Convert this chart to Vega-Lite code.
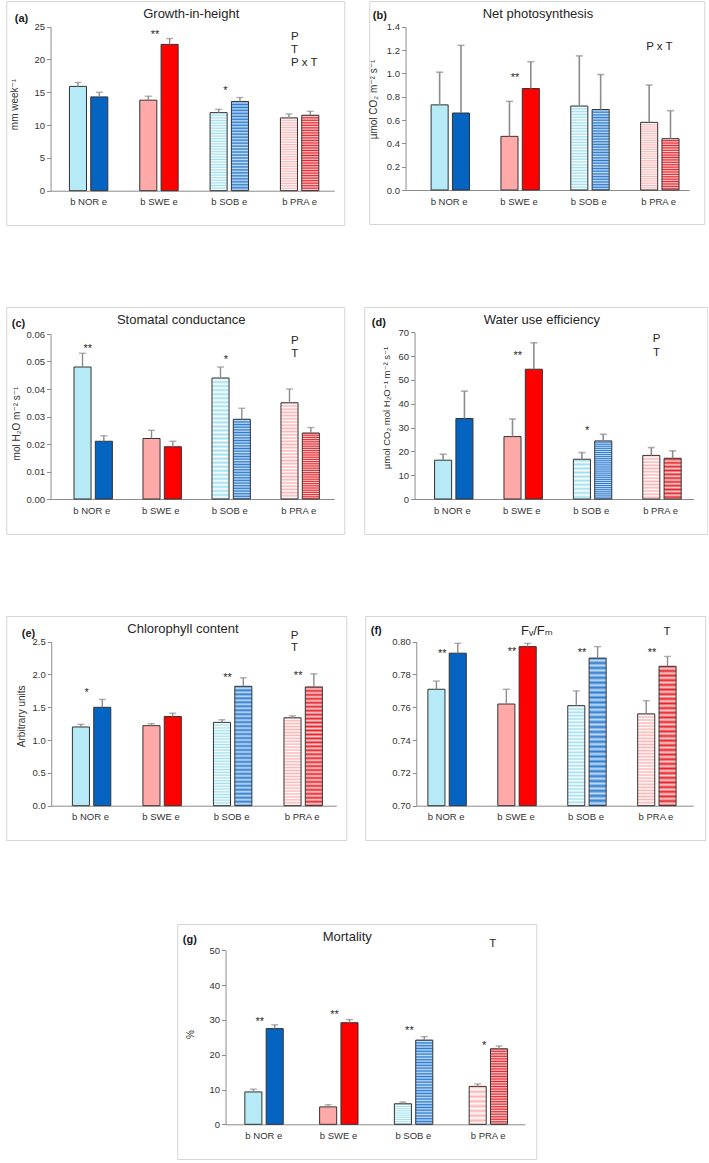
{
  "$schema": "https://vega.github.io/schema/vega-lite/v6.json",
  "background": "white",
  "padding": {"left": 5, "top": 0, "right": 0, "bottom": 0},
  "params": [
    {"name": "sobB", "value": {"gradient": "linear", "x1": 0, "y1": 0, "x2": 0, "y2": 1, "stops": [{"offset":0,"color":"#9fdff0"},{"offset":0.0167,"color":"#ffffff"},{"offset":0.0333,"color":"#9fdff0"},{"offset":0.05,"color":"#ffffff"},{"offset":0.0667,"color":"#9fdff0"},{"offset":0.0833,"color":"#ffffff"},{"offset":0.1,"color":"#9fdff0"},{"offset":0.1167,"color":"#ffffff"},{"offset":0.1333,"color":"#9fdff0"},{"offset":0.15,"color":"#ffffff"},{"offset":0.1667,"color":"#9fdff0"},{"offset":0.1833,"color":"#ffffff"},{"offset":0.2,"color":"#9fdff0"},{"offset":0.2167,"color":"#ffffff"},{"offset":0.2333,"color":"#9fdff0"},{"offset":0.25,"color":"#ffffff"},{"offset":0.2667,"color":"#9fdff0"},{"offset":0.2833,"color":"#ffffff"},{"offset":0.3,"color":"#9fdff0"},{"offset":0.3167,"color":"#ffffff"},{"offset":0.3333,"color":"#9fdff0"},{"offset":0.35,"color":"#ffffff"},{"offset":0.3667,"color":"#9fdff0"},{"offset":0.3833,"color":"#ffffff"},{"offset":0.4,"color":"#9fdff0"},{"offset":0.4167,"color":"#ffffff"},{"offset":0.4333,"color":"#9fdff0"},{"offset":0.45,"color":"#ffffff"},{"offset":0.4667,"color":"#9fdff0"},{"offset":0.4833,"color":"#ffffff"},{"offset":0.5,"color":"#9fdff0"},{"offset":0.5167,"color":"#ffffff"},{"offset":0.5333,"color":"#9fdff0"},{"offset":0.55,"color":"#ffffff"},{"offset":0.5667,"color":"#9fdff0"},{"offset":0.5833,"color":"#ffffff"},{"offset":0.6,"color":"#9fdff0"},{"offset":0.6167,"color":"#ffffff"},{"offset":0.6333,"color":"#9fdff0"},{"offset":0.65,"color":"#ffffff"},{"offset":0.6667,"color":"#9fdff0"},{"offset":0.6833,"color":"#ffffff"},{"offset":0.7,"color":"#9fdff0"},{"offset":0.7167,"color":"#ffffff"},{"offset":0.7333,"color":"#9fdff0"},{"offset":0.75,"color":"#ffffff"},{"offset":0.7667,"color":"#9fdff0"},{"offset":0.7833,"color":"#ffffff"},{"offset":0.8,"color":"#9fdff0"},{"offset":0.8167,"color":"#ffffff"},{"offset":0.8333,"color":"#9fdff0"},{"offset":0.85,"color":"#ffffff"},{"offset":0.8667,"color":"#9fdff0"},{"offset":0.8833,"color":"#ffffff"},{"offset":0.9,"color":"#9fdff0"},{"offset":0.9167,"color":"#ffffff"},{"offset":0.9333,"color":"#9fdff0"},{"offset":0.95,"color":"#ffffff"},{"offset":0.9667,"color":"#9fdff0"},{"offset":0.9833,"color":"#ffffff"},{"offset":1,"color":"#9fdff0"}]}},
    {"name": "sobE", "value": {"gradient": "linear", "x1": 0, "y1": 0, "x2": 0, "y2": 1, "stops": [{"offset":0,"color":"#2a7bd0"},{"offset":0.0167,"color":"#c5dcf5"},{"offset":0.0333,"color":"#2a7bd0"},{"offset":0.05,"color":"#c5dcf5"},{"offset":0.0667,"color":"#2a7bd0"},{"offset":0.0833,"color":"#c5dcf5"},{"offset":0.1,"color":"#2a7bd0"},{"offset":0.1167,"color":"#c5dcf5"},{"offset":0.1333,"color":"#2a7bd0"},{"offset":0.15,"color":"#c5dcf5"},{"offset":0.1667,"color":"#2a7bd0"},{"offset":0.1833,"color":"#c5dcf5"},{"offset":0.2,"color":"#2a7bd0"},{"offset":0.2167,"color":"#c5dcf5"},{"offset":0.2333,"color":"#2a7bd0"},{"offset":0.25,"color":"#c5dcf5"},{"offset":0.2667,"color":"#2a7bd0"},{"offset":0.2833,"color":"#c5dcf5"},{"offset":0.3,"color":"#2a7bd0"},{"offset":0.3167,"color":"#c5dcf5"},{"offset":0.3333,"color":"#2a7bd0"},{"offset":0.35,"color":"#c5dcf5"},{"offset":0.3667,"color":"#2a7bd0"},{"offset":0.3833,"color":"#c5dcf5"},{"offset":0.4,"color":"#2a7bd0"},{"offset":0.4167,"color":"#c5dcf5"},{"offset":0.4333,"color":"#2a7bd0"},{"offset":0.45,"color":"#c5dcf5"},{"offset":0.4667,"color":"#2a7bd0"},{"offset":0.4833,"color":"#c5dcf5"},{"offset":0.5,"color":"#2a7bd0"},{"offset":0.5167,"color":"#c5dcf5"},{"offset":0.5333,"color":"#2a7bd0"},{"offset":0.55,"color":"#c5dcf5"},{"offset":0.5667,"color":"#2a7bd0"},{"offset":0.5833,"color":"#c5dcf5"},{"offset":0.6,"color":"#2a7bd0"},{"offset":0.6167,"color":"#c5dcf5"},{"offset":0.6333,"color":"#2a7bd0"},{"offset":0.65,"color":"#c5dcf5"},{"offset":0.6667,"color":"#2a7bd0"},{"offset":0.6833,"color":"#c5dcf5"},{"offset":0.7,"color":"#2a7bd0"},{"offset":0.7167,"color":"#c5dcf5"},{"offset":0.7333,"color":"#2a7bd0"},{"offset":0.75,"color":"#c5dcf5"},{"offset":0.7667,"color":"#2a7bd0"},{"offset":0.7833,"color":"#c5dcf5"},{"offset":0.8,"color":"#2a7bd0"},{"offset":0.8167,"color":"#c5dcf5"},{"offset":0.8333,"color":"#2a7bd0"},{"offset":0.85,"color":"#c5dcf5"},{"offset":0.8667,"color":"#2a7bd0"},{"offset":0.8833,"color":"#c5dcf5"},{"offset":0.9,"color":"#2a7bd0"},{"offset":0.9167,"color":"#c5dcf5"},{"offset":0.9333,"color":"#2a7bd0"},{"offset":0.95,"color":"#c5dcf5"},{"offset":0.9667,"color":"#2a7bd0"},{"offset":0.9833,"color":"#c5dcf5"},{"offset":1,"color":"#2a7bd0"}]}},
    {"name": "praB", "value": {"gradient": "linear", "x1": 0, "y1": 0, "x2": 0, "y2": 1, "stops": [{"offset":0,"color":"#ffb2b2"},{"offset":0.0167,"color":"#ffffff"},{"offset":0.0333,"color":"#ffb2b2"},{"offset":0.05,"color":"#ffffff"},{"offset":0.0667,"color":"#ffb2b2"},{"offset":0.0833,"color":"#ffffff"},{"offset":0.1,"color":"#ffb2b2"},{"offset":0.1167,"color":"#ffffff"},{"offset":0.1333,"color":"#ffb2b2"},{"offset":0.15,"color":"#ffffff"},{"offset":0.1667,"color":"#ffb2b2"},{"offset":0.1833,"color":"#ffffff"},{"offset":0.2,"color":"#ffb2b2"},{"offset":0.2167,"color":"#ffffff"},{"offset":0.2333,"color":"#ffb2b2"},{"offset":0.25,"color":"#ffffff"},{"offset":0.2667,"color":"#ffb2b2"},{"offset":0.2833,"color":"#ffffff"},{"offset":0.3,"color":"#ffb2b2"},{"offset":0.3167,"color":"#ffffff"},{"offset":0.3333,"color":"#ffb2b2"},{"offset":0.35,"color":"#ffffff"},{"offset":0.3667,"color":"#ffb2b2"},{"offset":0.3833,"color":"#ffffff"},{"offset":0.4,"color":"#ffb2b2"},{"offset":0.4167,"color":"#ffffff"},{"offset":0.4333,"color":"#ffb2b2"},{"offset":0.45,"color":"#ffffff"},{"offset":0.4667,"color":"#ffb2b2"},{"offset":0.4833,"color":"#ffffff"},{"offset":0.5,"color":"#ffb2b2"},{"offset":0.5167,"color":"#ffffff"},{"offset":0.5333,"color":"#ffb2b2"},{"offset":0.55,"color":"#ffffff"},{"offset":0.5667,"color":"#ffb2b2"},{"offset":0.5833,"color":"#ffffff"},{"offset":0.6,"color":"#ffb2b2"},{"offset":0.6167,"color":"#ffffff"},{"offset":0.6333,"color":"#ffb2b2"},{"offset":0.65,"color":"#ffffff"},{"offset":0.6667,"color":"#ffb2b2"},{"offset":0.6833,"color":"#ffffff"},{"offset":0.7,"color":"#ffb2b2"},{"offset":0.7167,"color":"#ffffff"},{"offset":0.7333,"color":"#ffb2b2"},{"offset":0.75,"color":"#ffffff"},{"offset":0.7667,"color":"#ffb2b2"},{"offset":0.7833,"color":"#ffffff"},{"offset":0.8,"color":"#ffb2b2"},{"offset":0.8167,"color":"#ffffff"},{"offset":0.8333,"color":"#ffb2b2"},{"offset":0.85,"color":"#ffffff"},{"offset":0.8667,"color":"#ffb2b2"},{"offset":0.8833,"color":"#ffffff"},{"offset":0.9,"color":"#ffb2b2"},{"offset":0.9167,"color":"#ffffff"},{"offset":0.9333,"color":"#ffb2b2"},{"offset":0.95,"color":"#ffffff"},{"offset":0.9667,"color":"#ffb2b2"},{"offset":0.9833,"color":"#ffffff"},{"offset":1,"color":"#ffb2b2"}]}},
    {"name": "praE", "value": {"gradient": "linear", "x1": 0, "y1": 0, "x2": 0, "y2": 1, "stops": [{"offset":0,"color":"#e5232b"},{"offset":0.0167,"color":"#fbd0d0"},{"offset":0.0333,"color":"#e5232b"},{"offset":0.05,"color":"#fbd0d0"},{"offset":0.0667,"color":"#e5232b"},{"offset":0.0833,"color":"#fbd0d0"},{"offset":0.1,"color":"#e5232b"},{"offset":0.1167,"color":"#fbd0d0"},{"offset":0.1333,"color":"#e5232b"},{"offset":0.15,"color":"#fbd0d0"},{"offset":0.1667,"color":"#e5232b"},{"offset":0.1833,"color":"#fbd0d0"},{"offset":0.2,"color":"#e5232b"},{"offset":0.2167,"color":"#fbd0d0"},{"offset":0.2333,"color":"#e5232b"},{"offset":0.25,"color":"#fbd0d0"},{"offset":0.2667,"color":"#e5232b"},{"offset":0.2833,"color":"#fbd0d0"},{"offset":0.3,"color":"#e5232b"},{"offset":0.3167,"color":"#fbd0d0"},{"offset":0.3333,"color":"#e5232b"},{"offset":0.35,"color":"#fbd0d0"},{"offset":0.3667,"color":"#e5232b"},{"offset":0.3833,"color":"#fbd0d0"},{"offset":0.4,"color":"#e5232b"},{"offset":0.4167,"color":"#fbd0d0"},{"offset":0.4333,"color":"#e5232b"},{"offset":0.45,"color":"#fbd0d0"},{"offset":0.4667,"color":"#e5232b"},{"offset":0.4833,"color":"#fbd0d0"},{"offset":0.5,"color":"#e5232b"},{"offset":0.5167,"color":"#fbd0d0"},{"offset":0.5333,"color":"#e5232b"},{"offset":0.55,"color":"#fbd0d0"},{"offset":0.5667,"color":"#e5232b"},{"offset":0.5833,"color":"#fbd0d0"},{"offset":0.6,"color":"#e5232b"},{"offset":0.6167,"color":"#fbd0d0"},{"offset":0.6333,"color":"#e5232b"},{"offset":0.65,"color":"#fbd0d0"},{"offset":0.6667,"color":"#e5232b"},{"offset":0.6833,"color":"#fbd0d0"},{"offset":0.7,"color":"#e5232b"},{"offset":0.7167,"color":"#fbd0d0"},{"offset":0.7333,"color":"#e5232b"},{"offset":0.75,"color":"#fbd0d0"},{"offset":0.7667,"color":"#e5232b"},{"offset":0.7833,"color":"#fbd0d0"},{"offset":0.8,"color":"#e5232b"},{"offset":0.8167,"color":"#fbd0d0"},{"offset":0.8333,"color":"#e5232b"},{"offset":0.85,"color":"#fbd0d0"},{"offset":0.8667,"color":"#e5232b"},{"offset":0.8833,"color":"#fbd0d0"},{"offset":0.9,"color":"#e5232b"},{"offset":0.9167,"color":"#fbd0d0"},{"offset":0.9333,"color":"#e5232b"},{"offset":0.95,"color":"#fbd0d0"},{"offset":0.9667,"color":"#e5232b"},{"offset":0.9833,"color":"#fbd0d0"},{"offset":1,"color":"#e5232b"}]}}
  ],
  "data": {"values": [
    {"panel": "a", "kind": "bar", "pop": "NOR", "trt": "b", "value": 15.9, "hi": 16.5},
    {"panel": "a", "kind": "bar", "pop": "NOR", "trt": "e", "value": 14.3, "hi": 15.0},
    {"panel": "a", "kind": "bar", "pop": "SWE", "trt": "b", "value": 13.8, "hi": 14.4},
    {"panel": "a", "kind": "bar", "pop": "SWE", "trt": "e", "value": 22.3, "hi": 23.2},
    {"panel": "a", "kind": "bar", "pop": "SOB", "trt": "b", "value": 11.9, "hi": 12.4},
    {"panel": "a", "kind": "bar", "pop": "SOB", "trt": "e", "value": 13.6, "hi": 14.2},
    {"panel": "a", "kind": "bar", "pop": "PRA", "trt": "b", "value": 11.1, "hi": 11.7},
    {"panel": "a", "kind": "bar", "pop": "PRA", "trt": "e", "value": 11.5, "hi": 12.1},
    {"panel": "a", "kind": "star", "pop": "SWE", "value": 24.2, "label": "**"},
    {"panel": "a", "kind": "star", "pop": "SOB", "value": 15.7, "label": "*"},
    {"panel": "a", "kind": "note", "pop": "PRA", "value": 23.4, "label": "P"},
    {"panel": "a", "kind": "note", "pop": "PRA", "value": 21.45, "label": "T"},
    {"panel": "a", "kind": "note", "pop": "PRA", "value": 19.5, "label": "P x T"},

    {"panel": "b", "kind": "bar", "pop": "NOR", "trt": "b", "value": 0.73, "hi": 1.01},
    {"panel": "b", "kind": "bar", "pop": "NOR", "trt": "e", "value": 0.66, "hi": 1.24},
    {"panel": "b", "kind": "bar", "pop": "SWE", "trt": "b", "value": 0.46, "hi": 0.76},
    {"panel": "b", "kind": "bar", "pop": "SWE", "trt": "e", "value": 0.87, "hi": 1.10},
    {"panel": "b", "kind": "bar", "pop": "SOB", "trt": "b", "value": 0.72, "hi": 1.15},
    {"panel": "b", "kind": "bar", "pop": "SOB", "trt": "e", "value": 0.69, "hi": 0.99},
    {"panel": "b", "kind": "bar", "pop": "PRA", "trt": "b", "value": 0.58, "hi": 0.90},
    {"panel": "b", "kind": "bar", "pop": "PRA", "trt": "e", "value": 0.44, "hi": 0.68},
    {"panel": "b", "kind": "star", "pop": "SWE", "value": 0.99, "label": "**"},
    {"panel": "b", "kind": "note", "pop": "PRA", "value": 1.23, "label": "P x T"},

    {"panel": "c", "kind": "bar", "pop": "NOR", "trt": "b", "value": 0.048, "hi": 0.053},
    {"panel": "c", "kind": "bar", "pop": "NOR", "trt": "e", "value": 0.021, "hi": 0.023},
    {"panel": "c", "kind": "bar", "pop": "SWE", "trt": "b", "value": 0.022, "hi": 0.025},
    {"panel": "c", "kind": "bar", "pop": "SWE", "trt": "e", "value": 0.019, "hi": 0.021},
    {"panel": "c", "kind": "bar", "pop": "SOB", "trt": "b", "value": 0.044, "hi": 0.048},
    {"panel": "c", "kind": "bar", "pop": "SOB", "trt": "e", "value": 0.029, "hi": 0.033},
    {"panel": "c", "kind": "bar", "pop": "PRA", "trt": "b", "value": 0.035, "hi": 0.040},
    {"panel": "c", "kind": "bar", "pop": "PRA", "trt": "e", "value": 0.024, "hi": 0.026},
    {"panel": "c", "kind": "star", "pop": "NOR", "value": 0.0556, "label": "**"},
    {"panel": "c", "kind": "star", "pop": "SOB", "value": 0.0515, "label": "*"},
    {"panel": "c", "kind": "note", "pop": "PRA", "value": 0.0576, "label": "P"},
    {"panel": "c", "kind": "note", "pop": "PRA", "value": 0.0526, "label": "T"},

    {"panel": "d", "kind": "bar", "pop": "NOR", "trt": "b", "value": 16.3, "hi": 18.8},
    {"panel": "d", "kind": "bar", "pop": "NOR", "trt": "e", "value": 33.8, "hi": 45.3},
    {"panel": "d", "kind": "bar", "pop": "SWE", "trt": "b", "value": 26.2, "hi": 33.6},
    {"panel": "d", "kind": "bar", "pop": "SWE", "trt": "e", "value": 54.5, "hi": 65.6},
    {"panel": "d", "kind": "bar", "pop": "SOB", "trt": "b", "value": 16.7, "hi": 19.5},
    {"panel": "d", "kind": "bar", "pop": "SOB", "trt": "e", "value": 24.4, "hi": 27.2},
    {"panel": "d", "kind": "bar", "pop": "PRA", "trt": "b", "value": 18.3, "hi": 21.6},
    {"panel": "d", "kind": "bar", "pop": "PRA", "trt": "e", "value": 17.1, "hi": 20.2},
    {"panel": "d", "kind": "star", "pop": "SWE", "value": 61.2, "label": "**"},
    {"panel": "d", "kind": "star", "pop": "SOB", "value": 29.7, "label": "*"},
    {"panel": "d", "kind": "note", "pop": "PRA", "value": 67.1, "label": "P"},
    {"panel": "d", "kind": "note", "pop": "PRA", "value": 61.2, "label": "T"},

    {"panel": "e", "kind": "bar", "pop": "NOR", "trt": "b", "value": 1.20, "hi": 1.24},
    {"panel": "e", "kind": "bar", "pop": "NOR", "trt": "e", "value": 1.50, "hi": 1.62},
    {"panel": "e", "kind": "bar", "pop": "SWE", "trt": "b", "value": 1.22, "hi": 1.25},
    {"panel": "e", "kind": "bar", "pop": "SWE", "trt": "e", "value": 1.36, "hi": 1.41},
    {"panel": "e", "kind": "bar", "pop": "SOB", "trt": "b", "value": 1.27, "hi": 1.31},
    {"panel": "e", "kind": "bar", "pop": "SOB", "trt": "e", "value": 1.82, "hi": 1.95},
    {"panel": "e", "kind": "bar", "pop": "PRA", "trt": "b", "value": 1.34, "hi": 1.37},
    {"panel": "e", "kind": "bar", "pop": "PRA", "trt": "e", "value": 1.81, "hi": 2.01},
    {"panel": "e", "kind": "star", "pop": "NOR", "value": 1.76, "label": "*"},
    {"panel": "e", "kind": "star", "pop": "SOB", "value": 1.99, "label": "**"},
    {"panel": "e", "kind": "star", "pop": "PRA", "value": 2.03, "label": "**"},
    {"panel": "e", "kind": "note", "pop": "PRA", "value": 2.59, "label": "P"},
    {"panel": "e", "kind": "note", "pop": "PRA", "value": 2.40, "label": "T"},

    {"panel": "f", "kind": "bar", "pop": "NOR", "trt": "b", "value": 0.771, "hi": 0.776},
    {"panel": "f", "kind": "bar", "pop": "NOR", "trt": "e", "value": 0.793, "hi": 0.799},
    {"panel": "f", "kind": "bar", "pop": "SWE", "trt": "b", "value": 0.762, "hi": 0.771},
    {"panel": "f", "kind": "bar", "pop": "SWE", "trt": "e", "value": 0.797, "hi": 0.799},
    {"panel": "f", "kind": "bar", "pop": "SOB", "trt": "b", "value": 0.761, "hi": 0.770},
    {"panel": "f", "kind": "bar", "pop": "SOB", "trt": "e", "value": 0.790, "hi": 0.797},
    {"panel": "f", "kind": "bar", "pop": "PRA", "trt": "b", "value": 0.756, "hi": 0.764},
    {"panel": "f", "kind": "bar", "pop": "PRA", "trt": "e", "value": 0.785, "hi": 0.791},
    {"panel": "f", "kind": "star", "pop": "NOR", "value": 0.7943, "label": "**"},
    {"panel": "f", "kind": "star", "pop": "SWE", "value": 0.7953, "label": "**"},
    {"panel": "f", "kind": "star", "pop": "SOB", "value": 0.7949, "label": "**"},
    {"panel": "f", "kind": "star", "pop": "PRA", "value": 0.7949, "label": "**"},
    {"panel": "f", "kind": "note", "pop": "PRA", "value": 0.8057, "label": "T"},

    {"panel": "g", "kind": "bar", "pop": "NOR", "trt": "b", "value": 9.3, "hi": 10.1},
    {"panel": "g", "kind": "bar", "pop": "NOR", "trt": "e", "value": 27.5, "hi": 28.6},
    {"panel": "g", "kind": "bar", "pop": "SWE", "trt": "b", "value": 5.0, "hi": 5.6},
    {"panel": "g", "kind": "bar", "pop": "SWE", "trt": "e", "value": 29.2, "hi": 30.1},
    {"panel": "g", "kind": "bar", "pop": "SOB", "trt": "b", "value": 5.9, "hi": 6.4},
    {"panel": "g", "kind": "bar", "pop": "SOB", "trt": "e", "value": 24.2, "hi": 25.2},
    {"panel": "g", "kind": "bar", "pop": "PRA", "trt": "b", "value": 10.9, "hi": 11.6},
    {"panel": "g", "kind": "bar", "pop": "PRA", "trt": "e", "value": 21.7, "hi": 22.5},
    {"panel": "g", "kind": "star", "pop": "NOR", "value": 30.2, "label": "**"},
    {"panel": "g", "kind": "star", "pop": "SWE", "value": 32.3, "label": "**"},
    {"panel": "g", "kind": "star", "pop": "SOB", "value": 27.8, "label": "**"},
    {"panel": "g", "kind": "star", "pop": "PRA", "value": 23.5, "label": "*"},
    {"panel": "g", "kind": "note", "pop": "PRA", "value": 51.7, "label": "T"}
  ]},
  "vconcat": [
    {
      "vconcat": [
        {
          "hconcat": [
            {
              "width": 338, "height": 224,
              "title": {"text": "Growth-in-height", "offset": -20, "dx": 16},
              "transform": [{"filter": "datum.panel === 'a'"}],
              "encoding": {
                "x": {"field": "pop", "type": "nominal",
                  "scale": {"domain": ["NOR", "SWE", "SOB", "PRA"], "range": [44.3, 328], "paddingInner": 0.454, "paddingOuter": 0.244, "align": 0.55},
                  "axis": {"offset": -34.3, "title": "(a)", "titleX": 8, "titleY": -172.7, "labelExpr": "'b ' + datum.value + ' e'"}},
                "y": {"field": "value", "type": "quantitative",
                  "scale": {"domain": [0, 25], "range": [189.7, 25.7]},
                  "axis": {"offset": -44.3, "values": [0, 5, 10, 15, 20, 25], "format": "d", "title": "mm week⁻¹", "titleX": -36.3, "titleY": 103}}
              },
              "layer": [
                {"transform": [{"filter": "datum.kind === 'bar' && datum.pop === 'NOR' && datum.trt === 'b'"}], "mark": {"type": "bar", "fill": "#b5eaf6"}, "encoding": {"xOffset": {"field": "trt", "type": "nominal", "scale": {"domain": ["b", "e"], "paddingInner": 0.2}}, "y2": {"datum": 0}}},
                {"transform": [{"filter": "datum.kind === 'bar' && datum.pop === 'NOR' && datum.trt === 'e'"}], "mark": {"type": "bar", "fill": "#0563c1"}, "encoding": {"xOffset": {"field": "trt", "type": "nominal"}, "y2": {"datum": 0}}},
                {"transform": [{"filter": "datum.kind === 'bar' && datum.pop === 'SWE' && datum.trt === 'b'"}], "mark": {"type": "bar", "fill": "#ffa9a9"}, "encoding": {"xOffset": {"field": "trt", "type": "nominal"}, "y2": {"datum": 0}}},
                {"transform": [{"filter": "datum.kind === 'bar' && datum.pop === 'SWE' && datum.trt === 'e'"}], "mark": {"type": "bar", "fill": "#ff0000"}, "encoding": {"xOffset": {"field": "trt", "type": "nominal"}, "y2": {"datum": 0}}},
                {"transform": [{"filter": "datum.kind === 'bar' && datum.pop === 'SOB' && datum.trt === 'b'"}], "mark": {"type": "bar", "fill": {"expr": "sobB"}}, "encoding": {"xOffset": {"field": "trt", "type": "nominal"}, "y2": {"datum": 0}}},
                {"transform": [{"filter": "datum.kind === 'bar' && datum.pop === 'SOB' && datum.trt === 'e'"}], "mark": {"type": "bar", "fill": {"expr": "sobE"}}, "encoding": {"xOffset": {"field": "trt", "type": "nominal"}, "y2": {"datum": 0}}},
                {"transform": [{"filter": "datum.kind === 'bar' && datum.pop === 'PRA' && datum.trt === 'b'"}], "mark": {"type": "bar", "fill": {"expr": "praB"}}, "encoding": {"xOffset": {"field": "trt", "type": "nominal"}, "y2": {"datum": 0}}},
                {"transform": [{"filter": "datum.kind === 'bar' && datum.pop === 'PRA' && datum.trt === 'e'"}], "mark": {"type": "bar", "fill": {"expr": "praE"}}, "encoding": {"xOffset": {"field": "trt", "type": "nominal"}, "y2": {"datum": 0}}},
                {"transform": [{"filter": "datum.kind === 'bar'"}], "mark": {"type": "rule", "color": "#8c8c8c", "strokeWidth": 1.4}, "encoding": {"xOffset": {"field": "trt", "type": "nominal"}, "y2": {"field": "hi"}}},
                {"transform": [{"filter": "datum.kind === 'bar'"}], "mark": {"type": "tick", "color": "#8c8c8c", "size": 7, "thickness": 1.4}, "encoding": {"xOffset": {"field": "trt", "type": "nominal"}, "y": {"field": "hi", "type": "quantitative"}}},
                {"transform": [{"filter": "datum.kind === 'star'"}], "mark": {"type": "text", "fontSize": 11, "dx": -4, "dy": 6, "baseline": "alphabetic", "color": "#262626"}, "encoding": {"text": {"field": "label", "type": "nominal"}}},
                {"transform": [{"filter": "datum.kind === 'note'"}], "mark": {"type": "text", "fontSize": 11.5, "align": "left", "dx": -8.5, "baseline": "middle", "color": "#262626"}, "encoding": {"text": {"field": "label", "type": "nominal"}}}
              ]
            },
            {
              "width": 335, "height": 223,
              "title": {"text": "Net photosynthesis", "offset": -19.7, "dx": 1.2},
              "transform": [{"filter": "datum.panel === 'b'"}],
              "encoding": {
                "x": {"field": "pop", "type": "nominal",
                  "scale": {"domain": ["NOR", "SWE", "SOB", "PRA"], "range": [36.3, 320], "paddingInner": 0.484, "paddingOuter": 0.273, "align": 0.67},
                  "axis": {"offset": -34, "title": "(b)", "titleX": 3, "titleY": -175, "labelExpr": "'b ' + datum.value + ' e'"}},
                "y": {"field": "value", "type": "quantitative",
                  "scale": {"domain": [0, 1.4], "range": [189, 25.7]},
                  "axis": {"offset": -36.3, "values": [0, 0.2, 0.4, 0.6, 0.8, 1.0, 1.2, 1.4], "format": ".1f", "title": "µmol CO₂ m⁻² s⁻¹", "titleX": -31.8, "titleY": 98}}
              },
              "layer": [
                {"transform": [{"filter": "datum.kind === 'bar' && datum.pop === 'NOR' && datum.trt === 'b'"}], "mark": {"type": "bar", "fill": "#b5eaf6"}, "encoding": {"xOffset": {"field": "trt", "type": "nominal", "scale": {"domain": ["b", "e"], "paddingInner": 0.2}}, "y2": {"datum": 0}}},
                {"transform": [{"filter": "datum.kind === 'bar' && datum.pop === 'NOR' && datum.trt === 'e'"}], "mark": {"type": "bar", "fill": "#0563c1"}, "encoding": {"xOffset": {"field": "trt", "type": "nominal"}, "y2": {"datum": 0}}},
                {"transform": [{"filter": "datum.kind === 'bar' && datum.pop === 'SWE' && datum.trt === 'b'"}], "mark": {"type": "bar", "fill": "#ffa9a9"}, "encoding": {"xOffset": {"field": "trt", "type": "nominal"}, "y2": {"datum": 0}}},
                {"transform": [{"filter": "datum.kind === 'bar' && datum.pop === 'SWE' && datum.trt === 'e'"}], "mark": {"type": "bar", "fill": "#ff0000"}, "encoding": {"xOffset": {"field": "trt", "type": "nominal"}, "y2": {"datum": 0}}},
                {"transform": [{"filter": "datum.kind === 'bar' && datum.pop === 'SOB' && datum.trt === 'b'"}], "mark": {"type": "bar", "fill": {"expr": "sobB"}}, "encoding": {"xOffset": {"field": "trt", "type": "nominal"}, "y2": {"datum": 0}}},
                {"transform": [{"filter": "datum.kind === 'bar' && datum.pop === 'SOB' && datum.trt === 'e'"}], "mark": {"type": "bar", "fill": {"expr": "sobE"}}, "encoding": {"xOffset": {"field": "trt", "type": "nominal"}, "y2": {"datum": 0}}},
                {"transform": [{"filter": "datum.kind === 'bar' && datum.pop === 'PRA' && datum.trt === 'b'"}], "mark": {"type": "bar", "fill": {"expr": "praB"}}, "encoding": {"xOffset": {"field": "trt", "type": "nominal"}, "y2": {"datum": 0}}},
                {"transform": [{"filter": "datum.kind === 'bar' && datum.pop === 'PRA' && datum.trt === 'e'"}], "mark": {"type": "bar", "fill": {"expr": "praE"}}, "encoding": {"xOffset": {"field": "trt", "type": "nominal"}, "y2": {"datum": 0}}},
                {"transform": [{"filter": "datum.kind === 'bar'"}], "mark": {"type": "rule", "color": "#8c8c8c", "strokeWidth": 1.6}, "encoding": {"xOffset": {"field": "trt", "type": "nominal"}, "y2": {"field": "hi"}}},
                {"transform": [{"filter": "datum.kind === 'bar'"}], "mark": {"type": "tick", "color": "#8c8c8c", "size": 7, "thickness": 1.6}, "encoding": {"xOffset": {"field": "trt", "type": "nominal"}, "y": {"field": "hi", "type": "quantitative"}}},
                {"transform": [{"filter": "datum.kind === 'star'"}], "mark": {"type": "text", "fontSize": 11, "dx": -4, "dy": 6, "baseline": "alphabetic", "color": "#262626"}, "encoding": {"text": {"field": "label", "type": "nominal"}}},
                {"transform": [{"filter": "datum.kind === 'note'"}], "mark": {"type": "text", "fontSize": 11.5, "align": "left", "dx": -12.5, "baseline": "middle", "color": "#262626"}, "encoding": {"text": {"field": "label", "type": "nominal"}}}
              ]
            }
          ],
          "spacing": 22
        },
        {
          "hconcat": [
            {
              "width": 338, "height": 227,
              "title": {"text": "Stomatal conductance", "offset": -20, "dx": 6},
              "transform": [{"filter": "datum.panel === 'c'"}],
              "encoding": {
                "x": {"field": "pop", "type": "nominal",
                  "scale": {"domain": ["NOR", "SWE", "SOB", "PRA"], "range": [44.3, 328], "paddingInner": 0.484, "paddingOuter": 0.298, "align": 0.57},
                  "axis": {"offset": -35, "title": "(c)", "titleX": 5, "titleY": -175.7, "labelExpr": "'b ' + datum.value + ' e'"}},
                "y": {"field": "value", "type": "quantitative",
                  "scale": {"domain": [0, 0.06], "range": [192, 27]},
                  "axis": {"offset": -44.3, "values": [0, 0.01, 0.02, 0.03, 0.04, 0.05, 0.06], "format": ".2f", "title": "mol H₂O m⁻² s⁻¹", "titleX": -34.3, "titleY": 116}}
              },
              "layer": [
                {"transform": [{"filter": "datum.kind === 'bar' && datum.pop === 'NOR' && datum.trt === 'b'"}], "mark": {"type": "bar", "fill": "#b5eaf6"}, "encoding": {"xOffset": {"field": "trt", "type": "nominal", "scale": {"domain": ["b", "e"], "paddingInner": 0.2}}, "y2": {"datum": 0}}},
                {"transform": [{"filter": "datum.kind === 'bar' && datum.pop === 'NOR' && datum.trt === 'e'"}], "mark": {"type": "bar", "fill": "#0563c1"}, "encoding": {"xOffset": {"field": "trt", "type": "nominal"}, "y2": {"datum": 0}}},
                {"transform": [{"filter": "datum.kind === 'bar' && datum.pop === 'SWE' && datum.trt === 'b'"}], "mark": {"type": "bar", "fill": "#ffa9a9"}, "encoding": {"xOffset": {"field": "trt", "type": "nominal"}, "y2": {"datum": 0}}},
                {"transform": [{"filter": "datum.kind === 'bar' && datum.pop === 'SWE' && datum.trt === 'e'"}], "mark": {"type": "bar", "fill": "#ff0000"}, "encoding": {"xOffset": {"field": "trt", "type": "nominal"}, "y2": {"datum": 0}}},
                {"transform": [{"filter": "datum.kind === 'bar' && datum.pop === 'SOB' && datum.trt === 'b'"}], "mark": {"type": "bar", "fill": {"expr": "sobB"}}, "encoding": {"xOffset": {"field": "trt", "type": "nominal"}, "y2": {"datum": 0}}},
                {"transform": [{"filter": "datum.kind === 'bar' && datum.pop === 'SOB' && datum.trt === 'e'"}], "mark": {"type": "bar", "fill": {"expr": "sobE"}}, "encoding": {"xOffset": {"field": "trt", "type": "nominal"}, "y2": {"datum": 0}}},
                {"transform": [{"filter": "datum.kind === 'bar' && datum.pop === 'PRA' && datum.trt === 'b'"}], "mark": {"type": "bar", "fill": {"expr": "praB"}}, "encoding": {"xOffset": {"field": "trt", "type": "nominal"}, "y2": {"datum": 0}}},
                {"transform": [{"filter": "datum.kind === 'bar' && datum.pop === 'PRA' && datum.trt === 'e'"}], "mark": {"type": "bar", "fill": {"expr": "praE"}}, "encoding": {"xOffset": {"field": "trt", "type": "nominal"}, "y2": {"datum": 0}}},
                {"transform": [{"filter": "datum.kind === 'bar'"}], "mark": {"type": "rule", "color": "#8c8c8c", "strokeWidth": 1.4}, "encoding": {"xOffset": {"field": "trt", "type": "nominal"}, "y2": {"field": "hi"}}},
                {"transform": [{"filter": "datum.kind === 'bar'"}], "mark": {"type": "tick", "color": "#8c8c8c", "size": 7, "thickness": 1.4}, "encoding": {"xOffset": {"field": "trt", "type": "nominal"}, "y": {"field": "hi", "type": "quantitative"}}},
                {"transform": [{"filter": "datum.kind === 'star'"}], "mark": {"type": "text", "fontSize": 11, "dx": -4, "dy": 6, "baseline": "alphabetic", "color": "#262626"}, "encoding": {"text": {"field": "label", "type": "nominal"}}},
                {"transform": [{"filter": "datum.kind === 'note'"}], "mark": {"type": "text", "fontSize": 11.5, "align": "center", "dx": -4, "baseline": "middle", "color": "#262626"}, "encoding": {"text": {"field": "label", "type": "nominal"}}}
              ]
            },
            {
              "width": 343, "height": 227,
              "title": {"text": "Water use efficiency", "offset": -20, "dx": 6.2},
              "transform": [{"filter": "datum.panel === 'd'"}],
              "encoding": {
                "x": {"field": "pop", "type": "nominal",
                  "scale": {"domain": ["NOR", "SWE", "SOB", "PRA"], "range": [50.3, 329.3], "paddingInner": 0.486, "paddingOuter": 0.253, "align": 0.57},
                  "axis": {"offset": -35, "title": "(d)", "titleX": 7, "titleY": -176.3, "labelExpr": "'b ' + datum.value + ' e'"}},
                "y": {"field": "value", "type": "quantitative",
                  "scale": {"domain": [0, 70], "range": [192, 25.3]},
                  "axis": {"offset": -50.3, "values": [0, 10, 20, 30, 40, 50, 60, 70], "format": "d", "title": "µmol CO₂ mol H₂O⁻¹ m⁻² s⁻¹", "titleFontSize": 9.5, "titleX": -27.6, "titleY": 100.5}}
              },
              "layer": [
                {"transform": [{"filter": "datum.kind === 'bar' && datum.pop === 'NOR' && datum.trt === 'b'"}], "mark": {"type": "bar", "fill": "#b5eaf6"}, "encoding": {"xOffset": {"field": "trt", "type": "nominal", "scale": {"domain": ["b", "e"], "paddingInner": 0.2}}, "y2": {"datum": 0}}},
                {"transform": [{"filter": "datum.kind === 'bar' && datum.pop === 'NOR' && datum.trt === 'e'"}], "mark": {"type": "bar", "fill": "#0563c1"}, "encoding": {"xOffset": {"field": "trt", "type": "nominal"}, "y2": {"datum": 0}}},
                {"transform": [{"filter": "datum.kind === 'bar' && datum.pop === 'SWE' && datum.trt === 'b'"}], "mark": {"type": "bar", "fill": "#ffa9a9"}, "encoding": {"xOffset": {"field": "trt", "type": "nominal"}, "y2": {"datum": 0}}},
                {"transform": [{"filter": "datum.kind === 'bar' && datum.pop === 'SWE' && datum.trt === 'e'"}], "mark": {"type": "bar", "fill": "#ff0000"}, "encoding": {"xOffset": {"field": "trt", "type": "nominal"}, "y2": {"datum": 0}}},
                {"transform": [{"filter": "datum.kind === 'bar' && datum.pop === 'SOB' && datum.trt === 'b'"}], "mark": {"type": "bar", "fill": {"expr": "sobB"}}, "encoding": {"xOffset": {"field": "trt", "type": "nominal"}, "y2": {"datum": 0}}},
                {"transform": [{"filter": "datum.kind === 'bar' && datum.pop === 'SOB' && datum.trt === 'e'"}], "mark": {"type": "bar", "fill": {"expr": "sobE"}}, "encoding": {"xOffset": {"field": "trt", "type": "nominal"}, "y2": {"datum": 0}}},
                {"transform": [{"filter": "datum.kind === 'bar' && datum.pop === 'PRA' && datum.trt === 'b'"}], "mark": {"type": "bar", "fill": {"expr": "praB"}}, "encoding": {"xOffset": {"field": "trt", "type": "nominal"}, "y2": {"datum": 0}}},
                {"transform": [{"filter": "datum.kind === 'bar' && datum.pop === 'PRA' && datum.trt === 'e'"}], "mark": {"type": "bar", "fill": {"expr": "praE"}}, "encoding": {"xOffset": {"field": "trt", "type": "nominal"}, "y2": {"datum": 0}}},
                {"transform": [{"filter": "datum.kind === 'bar'"}], "mark": {"type": "rule", "color": "#8c8c8c", "strokeWidth": 1.6}, "encoding": {"xOffset": {"field": "trt", "type": "nominal"}, "y2": {"field": "hi"}}},
                {"transform": [{"filter": "datum.kind === 'bar'"}], "mark": {"type": "tick", "color": "#8c8c8c", "size": 7, "thickness": 1.6}, "encoding": {"xOffset": {"field": "trt", "type": "nominal"}, "y": {"field": "hi", "type": "quantitative"}}},
                {"transform": [{"filter": "datum.kind === 'star'"}], "mark": {"type": "text", "fontSize": 11, "dx": -4, "dy": 6, "baseline": "alphabetic", "color": "#262626"}, "encoding": {"text": {"field": "label", "type": "nominal"}}},
                {"transform": [{"filter": "datum.kind === 'note'"}], "mark": {"type": "text", "fontSize": 11.5, "align": "center", "dx": -4, "baseline": "middle", "color": "#262626"}, "encoding": {"text": {"field": "label", "type": "nominal"}}}
              ]
            }
          ],
          "spacing": 18
        },
        {
          "hconcat": [
            {
              "width": 340, "height": 224,
              "title": {"text": "Chlorophyll content", "offset": -19.7, "dx": 6.7},
              "transform": [{"filter": "datum.panel === 'e'"}],
              "encoding": {
                "x": {"field": "pop", "type": "nominal",
                  "scale": {"domain": ["NOR", "SWE", "SOB", "PRA"], "range": [45, 330], "paddingInner": 0.485, "paddingOuter": 0.263, "align": 0.57},
                  "axis": {"offset": -34.3, "title": "(e)", "titleX": 15, "titleY": -172.7, "labelExpr": "'b ' + datum.value + ' e'"}},
                "y": {"field": "value", "type": "quantitative",
                  "scale": {"domain": [0, 2.5], "range": [189.7, 25.7]},
                  "axis": {"offset": -45, "values": [0, 0.5, 1.0, 1.5, 2.0, 2.5], "format": ".1f", "title": "Arbitrary units", "titleX": -30, "titleY": 99.8}}
              },
              "layer": [
                {"transform": [{"filter": "datum.kind === 'bar' && datum.pop === 'NOR' && datum.trt === 'b'"}], "mark": {"type": "bar", "fill": "#b5eaf6"}, "encoding": {"xOffset": {"field": "trt", "type": "nominal", "scale": {"domain": ["b", "e"], "paddingInner": 0.2}}, "y2": {"datum": 0}}},
                {"transform": [{"filter": "datum.kind === 'bar' && datum.pop === 'NOR' && datum.trt === 'e'"}], "mark": {"type": "bar", "fill": "#0563c1"}, "encoding": {"xOffset": {"field": "trt", "type": "nominal"}, "y2": {"datum": 0}}},
                {"transform": [{"filter": "datum.kind === 'bar' && datum.pop === 'SWE' && datum.trt === 'b'"}], "mark": {"type": "bar", "fill": "#ffa9a9"}, "encoding": {"xOffset": {"field": "trt", "type": "nominal"}, "y2": {"datum": 0}}},
                {"transform": [{"filter": "datum.kind === 'bar' && datum.pop === 'SWE' && datum.trt === 'e'"}], "mark": {"type": "bar", "fill": "#ff0000"}, "encoding": {"xOffset": {"field": "trt", "type": "nominal"}, "y2": {"datum": 0}}},
                {"transform": [{"filter": "datum.kind === 'bar' && datum.pop === 'SOB' && datum.trt === 'b'"}], "mark": {"type": "bar", "fill": {"expr": "sobB"}}, "encoding": {"xOffset": {"field": "trt", "type": "nominal"}, "y2": {"datum": 0}}},
                {"transform": [{"filter": "datum.kind === 'bar' && datum.pop === 'SOB' && datum.trt === 'e'"}], "mark": {"type": "bar", "fill": {"expr": "sobE"}}, "encoding": {"xOffset": {"field": "trt", "type": "nominal"}, "y2": {"datum": 0}}},
                {"transform": [{"filter": "datum.kind === 'bar' && datum.pop === 'PRA' && datum.trt === 'b'"}], "mark": {"type": "bar", "fill": {"expr": "praB"}}, "encoding": {"xOffset": {"field": "trt", "type": "nominal"}, "y2": {"datum": 0}}},
                {"transform": [{"filter": "datum.kind === 'bar' && datum.pop === 'PRA' && datum.trt === 'e'"}], "mark": {"type": "bar", "fill": {"expr": "praE"}}, "encoding": {"xOffset": {"field": "trt", "type": "nominal"}, "y2": {"datum": 0}}},
                {"transform": [{"filter": "datum.kind === 'bar'"}], "mark": {"type": "rule", "color": "#8c8c8c", "strokeWidth": 1.4}, "encoding": {"xOffset": {"field": "trt", "type": "nominal"}, "y2": {"field": "hi"}}},
                {"transform": [{"filter": "datum.kind === 'bar'"}], "mark": {"type": "tick", "color": "#8c8c8c", "size": 7, "thickness": 1.4}, "encoding": {"xOffset": {"field": "trt", "type": "nominal"}, "y": {"field": "hi", "type": "quantitative"}}},
                {"transform": [{"filter": "datum.kind === 'star'"}], "mark": {"type": "text", "fontSize": 11, "dx": -4, "dy": 6, "baseline": "alphabetic", "color": "#262626"}, "encoding": {"text": {"field": "label", "type": "nominal"}}},
                {"transform": [{"filter": "datum.kind === 'note'"}], "mark": {"type": "text", "fontSize": 11.5, "align": "center", "dx": -7.5, "baseline": "middle", "color": "#262626"}, "encoding": {"text": {"field": "label", "type": "nominal"}}}
              ]
            },
            {
              "width": 340, "height": 224,
              "title": {"text": "Fᵥ/Fₘ", "offset": -22, "dx": 1.7},
              "transform": [{"filter": "datum.panel === 'f'"}],
              "encoding": {
                "x": {"field": "pop", "type": "nominal",
                  "scale": {"domain": ["NOR", "SWE", "SOB", "PRA"], "range": [51, 328], "paddingInner": 0.477, "paddingOuter": 0.219, "align": 0.38},
                  "axis": {"offset": -34.3, "title": "(f)", "titleX": 5, "titleY": -175.7, "labelExpr": "'b ' + datum.value + ' e'"}},
                "y": {"field": "value", "type": "quantitative",
                  "scale": {"domain": [0.7, 0.8], "range": [189.7, 25.7]},
                  "axis": {"offset": -51, "values": [0.7, 0.72, 0.74, 0.76, 0.78, 0.8], "format": ".2f", "title": null}}
              },
              "layer": [
                {"transform": [{"filter": "datum.kind === 'bar' && datum.pop === 'NOR' && datum.trt === 'b'"}], "mark": {"type": "bar", "fill": "#b5eaf6"}, "encoding": {"xOffset": {"field": "trt", "type": "nominal", "scale": {"domain": ["b", "e"], "paddingInner": 0.2}}, "y2": {"datum": 0.7}}},
                {"transform": [{"filter": "datum.kind === 'bar' && datum.pop === 'NOR' && datum.trt === 'e'"}], "mark": {"type": "bar", "fill": "#0563c1"}, "encoding": {"xOffset": {"field": "trt", "type": "nominal"}, "y2": {"datum": 0.7}}},
                {"transform": [{"filter": "datum.kind === 'bar' && datum.pop === 'SWE' && datum.trt === 'b'"}], "mark": {"type": "bar", "fill": "#ffa9a9"}, "encoding": {"xOffset": {"field": "trt", "type": "nominal"}, "y2": {"datum": 0.7}}},
                {"transform": [{"filter": "datum.kind === 'bar' && datum.pop === 'SWE' && datum.trt === 'e'"}], "mark": {"type": "bar", "fill": "#ff0000"}, "encoding": {"xOffset": {"field": "trt", "type": "nominal"}, "y2": {"datum": 0.7}}},
                {"transform": [{"filter": "datum.kind === 'bar' && datum.pop === 'SOB' && datum.trt === 'b'"}], "mark": {"type": "bar", "fill": {"expr": "sobB"}}, "encoding": {"xOffset": {"field": "trt", "type": "nominal"}, "y2": {"datum": 0.7}}},
                {"transform": [{"filter": "datum.kind === 'bar' && datum.pop === 'SOB' && datum.trt === 'e'"}], "mark": {"type": "bar", "fill": {"expr": "sobE"}}, "encoding": {"xOffset": {"field": "trt", "type": "nominal"}, "y2": {"datum": 0.7}}},
                {"transform": [{"filter": "datum.kind === 'bar' && datum.pop === 'PRA' && datum.trt === 'b'"}], "mark": {"type": "bar", "fill": {"expr": "praB"}}, "encoding": {"xOffset": {"field": "trt", "type": "nominal"}, "y2": {"datum": 0.7}}},
                {"transform": [{"filter": "datum.kind === 'bar' && datum.pop === 'PRA' && datum.trt === 'e'"}], "mark": {"type": "bar", "fill": {"expr": "praE"}}, "encoding": {"xOffset": {"field": "trt", "type": "nominal"}, "y2": {"datum": 0.7}}},
                {"transform": [{"filter": "datum.kind === 'bar'"}], "mark": {"type": "rule", "color": "#8c8c8c", "strokeWidth": 1.4}, "encoding": {"xOffset": {"field": "trt", "type": "nominal"}, "y2": {"field": "hi"}}},
                {"transform": [{"filter": "datum.kind === 'bar'"}], "mark": {"type": "tick", "color": "#8c8c8c", "size": 7, "thickness": 1.4}, "encoding": {"xOffset": {"field": "trt", "type": "nominal"}, "y": {"field": "hi", "type": "quantitative"}}},
                {"transform": [{"filter": "datum.kind === 'star'"}], "mark": {"type": "text", "fontSize": 11, "dx": -4, "dy": 6, "baseline": "alphabetic", "color": "#262626"}, "encoding": {"text": {"field": "label", "type": "nominal"}}},
                {"transform": [{"filter": "datum.kind === 'note'"}], "mark": {"type": "text", "fontSize": 11.5, "align": "center", "dx": 11, "baseline": "middle", "color": "#262626"}, "encoding": {"text": {"field": "label", "type": "nominal"}}}
              ]
            }
          ],
          "spacing": 17
        }
      ],
      "spacing": 80
    },
    {
      "width": 359, "height": 235,
      "title": {"text": "Mortality", "offset": -20, "dx": -9.5},
      "transform": [{"filter": "datum.panel === 'g'"}],
      "encoding": {
        "x": {"field": "pop", "type": "nominal",
          "scale": {"domain": ["NOR", "SWE", "SOB", "PRA"], "range": [48.3, 347.7], "paddingInner": 0.492, "paddingOuter": 0.248, "align": 0.52},
          "axis": {"offset": -34.7, "title": "(g)", "titleX": 5, "titleY": -185.3, "labelExpr": "'b ' + datum.value + ' e'"}},
        "y": {"field": "value", "type": "quantitative",
          "scale": {"domain": [0, 50], "range": [200.3, 26.3]},
          "axis": {"offset": -48.3, "values": [0, 10, 20, 30, 40, 50], "format": "d", "title": "%", "titleX": -35, "titleY": 110}}
      },
      "layer": [
        {"transform": [{"filter": "datum.kind === 'bar' && datum.pop === 'NOR' && datum.trt === 'b'"}], "mark": {"type": "bar", "fill": "#b5eaf6"}, "encoding": {"xOffset": {"field": "trt", "type": "nominal", "scale": {"domain": ["b", "e"], "paddingInner": 0.2}}, "y2": {"datum": 0}}},
        {"transform": [{"filter": "datum.kind === 'bar' && datum.pop === 'NOR' && datum.trt === 'e'"}], "mark": {"type": "bar", "fill": "#0563c1"}, "encoding": {"xOffset": {"field": "trt", "type": "nominal"}, "y2": {"datum": 0}}},
        {"transform": [{"filter": "datum.kind === 'bar' && datum.pop === 'SWE' && datum.trt === 'b'"}], "mark": {"type": "bar", "fill": "#ffa9a9"}, "encoding": {"xOffset": {"field": "trt", "type": "nominal"}, "y2": {"datum": 0}}},
        {"transform": [{"filter": "datum.kind === 'bar' && datum.pop === 'SWE' && datum.trt === 'e'"}], "mark": {"type": "bar", "fill": "#ff0000"}, "encoding": {"xOffset": {"field": "trt", "type": "nominal"}, "y2": {"datum": 0}}},
        {"transform": [{"filter": "datum.kind === 'bar' && datum.pop === 'SOB' && datum.trt === 'b'"}], "mark": {"type": "bar", "fill": {"expr": "sobB"}}, "encoding": {"xOffset": {"field": "trt", "type": "nominal"}, "y2": {"datum": 0}}},
        {"transform": [{"filter": "datum.kind === 'bar' && datum.pop === 'SOB' && datum.trt === 'e'"}], "mark": {"type": "bar", "fill": {"expr": "sobE"}}, "encoding": {"xOffset": {"field": "trt", "type": "nominal"}, "y2": {"datum": 0}}},
        {"transform": [{"filter": "datum.kind === 'bar' && datum.pop === 'PRA' && datum.trt === 'b'"}], "mark": {"type": "bar", "fill": {"expr": "praB"}}, "encoding": {"xOffset": {"field": "trt", "type": "nominal"}, "y2": {"datum": 0}}},
        {"transform": [{"filter": "datum.kind === 'bar' && datum.pop === 'PRA' && datum.trt === 'e'"}], "mark": {"type": "bar", "fill": {"expr": "praE"}}, "encoding": {"xOffset": {"field": "trt", "type": "nominal"}, "y2": {"datum": 0}}},
        {"transform": [{"filter": "datum.kind === 'bar'"}], "mark": {"type": "rule", "color": "#8c8c8c", "strokeWidth": 1.4}, "encoding": {"xOffset": {"field": "trt", "type": "nominal"}, "y2": {"field": "hi"}}},
        {"transform": [{"filter": "datum.kind === 'bar'"}], "mark": {"type": "tick", "color": "#8c8c8c", "size": 7, "thickness": 1.4}, "encoding": {"xOffset": {"field": "trt", "type": "nominal"}, "y": {"field": "hi", "type": "quantitative"}}},
        {"transform": [{"filter": "datum.kind === 'star'"}], "mark": {"type": "text", "fontSize": 11, "dx": -4, "dy": 6, "baseline": "alphabetic", "color": "#262626"}, "encoding": {"text": {"field": "label", "type": "nominal"}}},
        {"transform": [{"filter": "datum.kind === 'note'"}], "mark": {"type": "text", "fontSize": 11.5, "align": "center", "dx": 4.7, "baseline": "middle", "color": "#262626"}, "encoding": {"text": {"field": "label", "type": "nominal"}}}
      ]
    }
  ],
  "spacing": 82, "center": true,
  "config": {
    "font": "Liberation Sans, DejaVu Sans, sans-serif",
    "view": {"stroke": "#d4d4d4", "strokeWidth": 1},
    "title": {"fontSize": 13, "fontWeight": "normal", "color": "#262626", "frame": "group", "anchor": "middle", "baseline": "middle"},
    "axis": {"grid": false, "domainColor": "#8c8c8c", "tickColor": "#8c8c8c", "labelColor": "#333333", "labelFontSize": 9.5, "titleFontSize": 10, "titleFontWeight": "normal", "titleColor": "#333333"},
    "axisX": {"ticks": false, "labelAngle": 0, "labelPadding": 6, "titleFontWeight": "bold", "titleFontSize": 11, "titleColor": "#1a1a1a", "titleAlign": "left", "titleBaseline": "middle", "titleAngle": 0},
    "axisY": {"tickSize": 4, "labelPadding": 2, "titleAngle": -90, "titleAlign": "center", "titleBaseline": "middle"},
    "bar": {"stroke": "#333333", "strokeWidth": 1}
  }
}
